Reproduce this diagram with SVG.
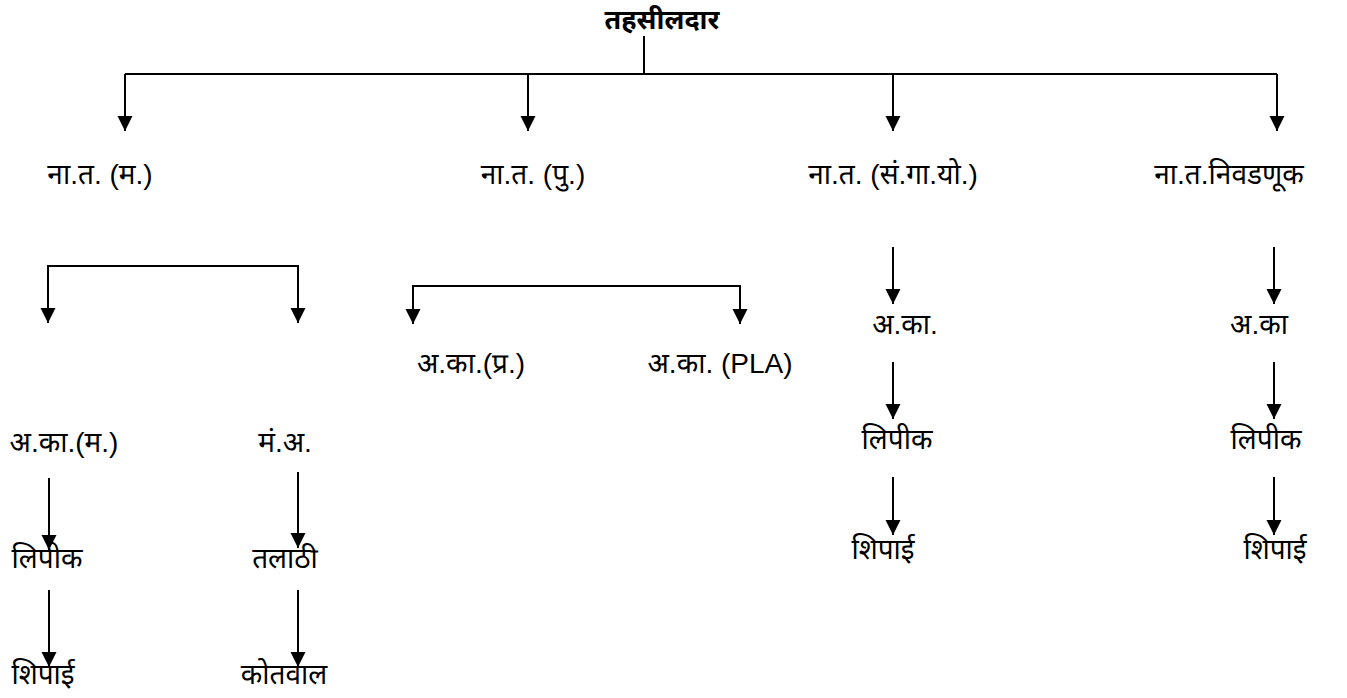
<svg xmlns="http://www.w3.org/2000/svg" width="1347" height="698" viewBox="0 0 1347 698">
<style>
text{font-family:"Liberation Sans","Noto Sans Devanagari","Noto Sans",sans-serif;font-size:28px;fill:#000;text-anchor:middle}
.title{font-weight:bold;font-size:27px}
.c{fill:none;stroke:#000;stroke-width:2}
</style>
<defs>
<marker id="arr" viewBox="0 0 15 15" refX="15" refY="7.5" markerWidth="15" markerHeight="16" markerUnits="userSpaceOnUse" orient="auto">
<path d="M0,0 L15,7.5 L0,15 z" fill="#000"/>
</marker>
</defs>
<rect width="1347" height="698" fill="#fff"/>
<g id="connectors">
<path class="c" d="M644,36 V74"/>
<path class="c" d="M125,74 H1277"/>
<path class="c" d="M125,74 V131" marker-end="url(#arr)"/>
<path class="c" d="M528,74 V131" marker-end="url(#arr)"/>
<path class="c" d="M893,74 V131" marker-end="url(#arr)"/>
<path class="c" d="M1277,74 V131" marker-end="url(#arr)"/>
<path class="c" d="M170,266 H48 V323" marker-end="url(#arr)"/>
<path class="c" d="M170,266 H298 V323" marker-end="url(#arr)"/>
<path class="c" d="M576,286 H413 V324" marker-end="url(#arr)"/>
<path class="c" d="M576,286 H740 V324" marker-end="url(#arr)"/>
<path class="c" d="M49,478 V550" marker-end="url(#arr)"/>
<path class="c" d="M49,590 V667" marker-end="url(#arr)"/>
<path class="c" d="M298,472 V548" marker-end="url(#arr)"/>
<path class="c" d="M298,590 V667" marker-end="url(#arr)"/>
<path class="c" d="M893,247 V304" marker-end="url(#arr)"/>
<path class="c" d="M893,362 V419" marker-end="url(#arr)"/>
<path class="c" d="M893,477 V535" marker-end="url(#arr)"/>
<path class="c" d="M1274,247 V304" marker-end="url(#arr)"/>
<path class="c" d="M1274,362 V419" marker-end="url(#arr)"/>
<path class="c" d="M1274,477 V535" marker-end="url(#arr)"/>
</g>
<g id="n-tahsildar"><text class="title" x="662" y="29">तहसीलदार</text></g>
<g id="n-nat-m"><text x="100" y="184">ना.त. (म.)</text></g>
<g id="n-nat-pu"><text x="533" y="184">ना.त. (पु.)</text></g>
<g id="n-nat-sgy"><text x="893" y="184">ना.त. (सं.गा.यो.)</text></g>
<g id="n-nat-niv"><text x="1229" y="184">ना.त.निवडणूक</text></g>
<g id="n-aka-m"><text x="64" y="452">अ.का.(म.)</text></g>
<g id="n-ma"><text x="285" y="452">मं.अ.</text></g>
<g id="n-lipik-1"><text x="47" y="568">लिपीक</text></g>
<g id="n-talathi"><text x="285" y="568">तलाठी</text></g>
<g id="n-shipai-1"><text x="43" y="684">शिपाई</text></g>
<g id="n-kotwal"><text x="284" y="684">कोतवाल</text></g>
<g id="n-aka-pra"><text x="471" y="373">अ.का.(प्र.)</text></g>
<g id="n-aka-pla"><text x="720" y="373">अ.का. (PLA)</text></g>
<g id="n-aka-3"><text x="905" y="334">अ.का.</text></g>
<g id="n-lipik-3"><text x="897" y="449">लिपीक</text></g>
<g id="n-shipai-3"><text x="883" y="559">शिपाई</text></g>
<g id="n-aka-4"><text x="1259" y="334">अ.का</text></g>
<g id="n-lipik-4"><text x="1266" y="449">लिपीक</text></g>
<g id="n-shipai-4"><text x="1275" y="559">शिपाई</text></g>
</svg>
